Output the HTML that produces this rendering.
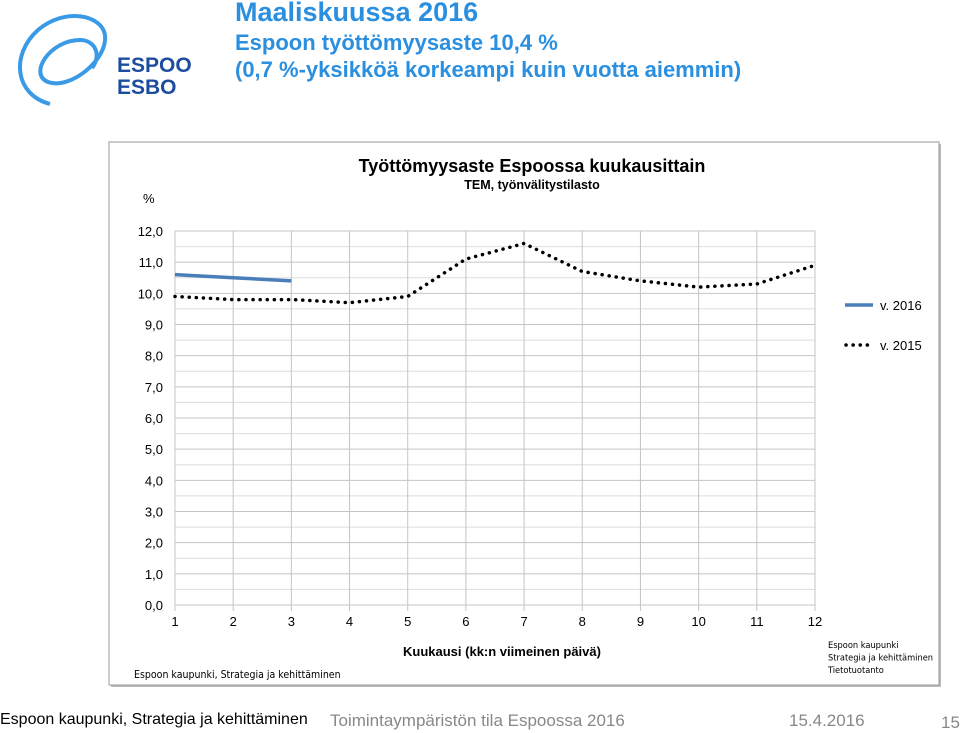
<!DOCTYPE html>
<html><head><meta charset="utf-8"><style>
body{margin:0;width:960px;height:732px;background:#fff;position:relative;overflow:hidden;font-family:"Liberation Sans",sans-serif}
.t{position:absolute;white-space:nowrap}
</style></head><body>
<svg style="position:absolute;left:10px;top:10px" width="200" height="100">
<path d="M40 94 C5 85 0 45 28 20 C55 -3 92 5 95 25 C98 50 60 80 38 72 C18 64 40 30 70 30 C85 30 92 45 82 58" fill="none" stroke="#3a9ae6" stroke-width="4"/>
<text x="107" y="62" font-family="Liberation Sans" font-weight="bold" font-size="21" fill="#1d4d9e">ESPOO</text>
<text x="107" y="84" font-family="Liberation Sans" font-weight="bold" font-size="21" fill="#1d4d9e">ESBO</text>
</svg>
<div class="t" style="left:235px;top:-3px;font-size:27px;font-weight:bold;color:#2b8fe0">Maaliskuussa 2016</div>
<div class="t" style="left:235px;top:30px;font-size:22px;font-weight:bold;color:#2b8fe0">Espoon työttömyysaste 10,4 %</div>
<div class="t" style="left:235px;top:57px;font-size:22px;font-weight:bold;color:#2b8fe0">(0,7 %-yksikköä korkeampi kuin vuotta aiemmin)</div>
<svg id="chart" style="position:absolute;left:0;top:0" width="960" height="732"></svg>
<div class="t" style="left:0;top:711px;font-size:16px;color:#000">Espoon kaupunki, Strategia ja kehittäminen</div>
<div class="t" style="left:330px;top:711px;font-size:17px;color:#888">Toimintaympäristön tila Espoossa 2016</div>
<div class="t" style="left:789px;top:711px;font-size:17px;color:#888">15.4.2016</div>
<div class="t" style="left:941px;top:713px;font-size:17px;color:#888">15</div>
<script>
const months=[1,2,3,4,5,6,7,8,9,10,11,12];
const yTicks=[0,1,2,3,4,5,6,7,8,9,10,11,12];
const series2016=[10.6,10.5,10.4];
const series2015=[9.9,9.8,9.8,9.7,9.9,11.1,11.6,10.7,10.4,10.2,10.3,10.9];
const NS='http://www.w3.org/2000/svg';
const svg=document.getElementById('chart');
function el(tag,a,txt){const e=document.createElementNS(NS,tag);for(const k in a)e.setAttribute(k,a[k]);if(txt!=null)e.textContent=txt;svg.appendChild(e);return e;}
const X=m=>175+(m-1)*(815-175)/11;
const Y=v=>605-v*(605-231)/12;
let e;
e=el('rect',{x:111,y:144,width:830,height:543,fill:'#bbb'});
e=el('rect',{x:109,y:142,width:830,height:543,fill:'#fff',stroke:'#999'});
e=el('text',{x:532,y:172,'text-anchor':'middle','font-size':18,'font-weight':'bold','font-family':'Liberation Sans'},'Työttömyysaste Espoossa kuukausittain');
e=el('text',{x:532,y:189,'text-anchor':'middle','font-size':12.5,'font-weight':'bold','font-family':'Liberation Sans'},'TEM, työnvälitystilasto');
e=el('text',{x:143,y:203,'font-size':13,'font-family':'Liberation Sans'},'%');
for(let v=0.5;v<12;v+=1){e=el('line',{x1:175,x2:815,y1:Y(v),y2:Y(v),stroke:'#ddd'});}
yTicks.forEach(v=>{e=el('line',{x1:175,x2:815,y1:Y(v),y2:Y(v),stroke:'#c4c4c4'});
e=el('text',{x:163,y:Y(v)+5,'text-anchor':'end','font-size':13,'font-family':'Liberation Sans'},v.toFixed(1).replace('.',','));});
months.forEach(m=>{e=el('line',{x1:X(m),x2:X(m),y1:Y(12),y2:Y(0)+6,stroke:'#c4c4c4'});
e=el('text',{x:X(m),y:626,'text-anchor':'middle','font-size':13,'font-family':'Liberation Sans'},String(m));});
e=el('text',{x:502,y:656,'text-anchor':'middle','font-size':13,'font-weight':'bold','font-family':'Liberation Sans'},'Kuukausi (kk:n viimeinen päivä)');
e=el('polyline',{points:series2015.map((v,i)=>X(months[i])+','+Y(v)).join(' '),fill:'none',stroke:'#000','stroke-width':3.5,'stroke-dasharray':'0.1 7','stroke-linecap':'round'});
e=el('polyline',{points:series2016.map((v,i)=>X(months[i])+','+Y(v)).join(' '),fill:'none',stroke:'#4a7ebb','stroke-width':3.5});
e=el('line',{x1:845,x2:873,y1:305,y2:305,stroke:'#4a7ebb','stroke-width':3.5});
e=el('text',{x:880,y:310,'font-size':13,'font-family':'Liberation Sans'},'v. 2016');
e=el('line',{x1:846,x2:873,y1:345,y2:345,stroke:'#000','stroke-width':3.5,'stroke-dasharray':'0.1 7','stroke-linecap':'round'});
e=el('text',{x:880,y:350,'font-size':13,'font-family':'Liberation Sans'},'v. 2015');
e=el('text',{x:134,y:678,'font-size':10.5,'font-family':'DejaVu Sans Condensed, Liberation Sans'},'Espoon kaupunki, Strategia ja kehittäminen');
['Espoon kaupunki','Strategia ja kehittäminen','Tietotuotanto'].forEach((s,i)=>{e=el('text',{x:828,y:648+i*12.5,'font-size':9.2,'font-family':'DejaVu Sans Condensed, Liberation Sans'},s);});
</script>
</body></html>
